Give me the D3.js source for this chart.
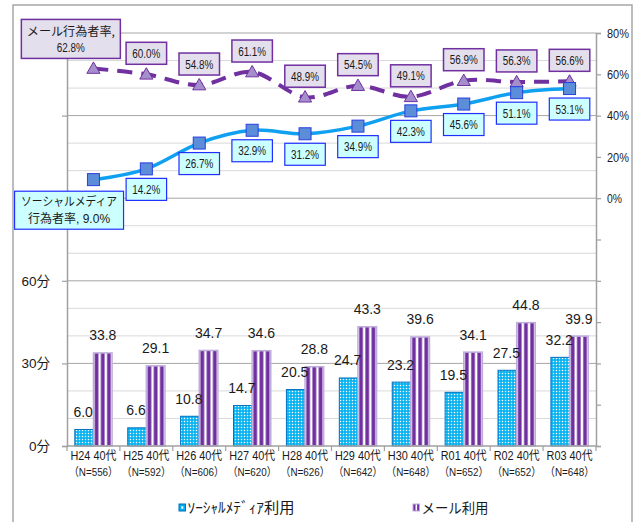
<!DOCTYPE html>
<html><head><meta charset="utf-8">
<script src="https://cdn.jsdelivr.net/npm/d3@7"></script>
<style>
html,body{margin:0;padding:0;background:#fff;}
svg{display:block;}
</style></head>
<body>
<svg id="chart" width="644" height="522"></svg>
<script>
// ---- data ----
const categories = ["H24","H25","H26","H27","H28","H29","H30","R01","R02","R03"];
const sampleN = [556,592,606,620,626,642,648,652,652,648];
const socialMinutes = [6.0,6.6,10.8,14.7,20.5,24.7,23.2,19.5,27.5,32.2];
const mailMinutes = [33.8,29.1,34.7,34.6,28.8,43.3,39.6,34.1,44.8,39.9];
const socialRate = [9.0,14.2,26.7,32.9,31.2,34.9,42.3,45.6,51.1,53.1];
const mailRate = [62.8,60.0,54.8,61.1,48.9,54.5,49.1,56.9,56.3,56.6];
const leftTickValues = [0,30,60,90,120,150];
const leftLabelValues = [0,30,60];
const rightTickValues = [-120,-100,-80,-60,-40,-20,0,20,40,60,80];
const rightLabelValues = [0,20,40,60,80];
const seriesNames = ["ｿｰｼｬﾙﾒﾃﾞｨｱ利用","メール利用"];
const socialRateName = ["ソーシャルメディア","行為者率"];
const mailRateName = "メール行為者率,";

// ---- layout ----
const L = 67, R = 596, T = 33, B = 446;
const NUM = "'Liberation Sans',Arial,'Noto Sans CJK JP',sans-serif";
const JP = "'Noto Sans CJK JP','Liberation Sans',sans-serif";

const svg = d3.select("#chart");

const x = d3.scaleBand().domain(categories).range([L, R]).paddingInner(0).paddingOuter(0);
const xi = d3.scaleBand().domain(["social","mail"]).range([0, x.bandwidth()]).paddingInner(0).paddingOuter(0.42);
const yL = d3.scaleLinear().domain([0,150]).range([B, T]);
const yR = d3.scaleLinear().domain([-120,80]).range([B, T]);

// patterns
const defs = svg.append("defs");
const pd = defs.append("pattern").attr("id","dots").attr("patternUnits","userSpaceOnUse")
  .attr("width",3).attr("height",3);
pd.append("rect").attr("width",3).attr("height",3).attr("fill","#00b0f0");
pd.append("rect").attr("x",0.8).attr("y",0.8).attr("width",1.4).attr("height",1.4).attr("fill","#ffffff");
const ps = defs.append("pattern").attr("id","stripes").attr("patternUnits","objectBoundingBox")
  .attr("patternContentUnits","objectBoundingBox").attr("width",1/3).attr("height",1);
ps.append("rect").attr("width",1/3).attr("height",1).attr("fill","#ffffff");
ps.append("rect").attr("x",0.065).attr("width",0.2).attr("height",1).attr("fill","#7030a0");

// outer frame
svg.append("rect").attr("x",13).attr("y",5).attr("width",619).attr("height",540)
  .attr("fill","none").attr("stroke","#a6a6a6").attr("stroke-width",1.5);

// gridlines (every 10 min on left scale)
const gridVals = d3.range(0,151,10);
svg.append("g").selectAll("line").data(gridVals.filter(v=>v>0)).join("line")
  .attr("x1",L).attr("x2",R)
  .attr("y1",d=>yL(d)).attr("y2",d=>yL(d))
  .attr("stroke",d=> d%30===0 ? "#a6a6a6" : "#d9d9d9")
  .attr("stroke-width",1);

// bars
const g = svg.append("g");
categories.forEach((c,i)=>{
  const x0 = x(c);
  g.append("rect").attr("x",x0+xi("social")).attr("width",xi.bandwidth())
    .attr("y",yL(socialMinutes[i])).attr("height",B-yL(socialMinutes[i]))
    .attr("fill","url(#dots)").attr("stroke","#0070c0").attr("stroke-width",1);
  g.append("rect").attr("x",x0+xi("mail")).attr("width",xi.bandwidth())
    .attr("y",yL(mailMinutes[i])).attr("height",B-yL(mailMinutes[i]))
    .attr("fill","url(#stripes)").attr("stroke","#bfaedb").attr("stroke-width",1.5);
  g.append("text").attr("x",x0+xi("social")+xi.bandwidth()/2-1).attr("y",yL(socialMinutes[i])-12.5)
    .attr("text-anchor","middle").attr("font-family",NUM).attr("font-size",14).attr("fill","#1a1a1a")
    .text(socialMinutes[i].toFixed(1));
  g.append("text").attr("x",x0+xi("mail")+xi.bandwidth()/2).attr("y",yL(mailMinutes[i])-12.5)
    .attr("text-anchor","middle").attr("font-family",NUM).attr("font-size",14).attr("fill","#1a1a1a")
    .text(mailMinutes[i].toFixed(1));
});

// axes
const axL = svg.append("g").attr("transform",`translate(${L},0)`)
  .call(d3.axisLeft(yL).tickValues(leftTickValues).tickSize(5).tickFormat(""));
const axR = svg.append("g").attr("transform",`translate(${R},0)`)
  .call(d3.axisRight(yR).tickValues(rightTickValues).tickSize(5).tickFormat(""));
const axB = svg.append("g").attr("transform",`translate(0,${B})`)
  .call(d3.axisBottom(x).tickSize(0).tickFormat(""));
[axL,axR,axB].forEach(a=>{
  a.select(".domain").attr("stroke","#a0a0a0").attr("stroke-width",1.5);
  a.selectAll(".tick line").attr("stroke","#a0a0a0").attr("stroke-width",1.2);
});
axB.select(".domain").attr("d",`M${L},0H${R}`);
// category boundary ticks
svg.append("g").selectAll("line").data(categories).join("line")
  .attr("x1",d=>x(d)+x.bandwidth()).attr("x2",d=>x(d)+x.bandwidth())
  .attr("y1",B).attr("y2",B+5).attr("stroke","#a0a0a0").attr("stroke-width",1.2);
svg.append("line").attr("x1",L).attr("x2",L).attr("y1",B).attr("y2",B+5).attr("stroke","#a0a0a0").attr("stroke-width",1.2);

// axis labels
svg.append("g").selectAll("text").data(leftLabelValues).join("text")
  .attr("x",50).attr("y",d=>yL(d)).attr("dy","0.36em").attr("text-anchor","end")
  .attr("font-family",NUM).attr("font-size",13.5).attr("fill","#1a1a1a").text(d=>d+"分");
svg.append("g").selectAll("text").data(rightLabelValues).join("text")
  .attr("x",607).attr("y",d=>yR(d)).attr("dy","0.36em").attr("text-anchor","start")
  .attr("font-family",NUM).attr("font-size",13.5).attr("fill","#1a1a1a")
  .attr("textLength",d=> d===0 ? 15 : 22).attr("lengthAdjust","spacingAndGlyphs")
  .text(d=>d+"%");

// category labels
const cl = svg.append("g").selectAll("g").data(categories).join("g");
cl.append("text").attr("x",d=>x(d)+x.bandwidth()/2).attr("y",459.5).attr("text-anchor","middle")
  .attr("font-family",NUM).attr("font-size",12.5).attr("fill","#1a1a1a")
  .attr("textLength",46).attr("lengthAdjust","spacingAndGlyphs")
  .text(d=>d+" 40代");
cl.append("text").attr("x",d=>x(d)+x.bandwidth()/2).attr("y",476).attr("text-anchor","middle")
  .attr("font-family",NUM).attr("font-size",11.5).attr("fill","#1a1a1a")
  .attr("textLength",49).attr("lengthAdjust","spacingAndGlyphs")
  .text((d,i)=>"（N="+sampleN[i]+"）");

// lines
const cx = c => x(c)+x.bandwidth()/2;
const socialPts = categories.map((c,i)=>[cx(c), yR(socialRate[i])]);
const mailPts = categories.map((c,i)=>[cx(c), yR(mailRate[i])]);
const line = d3.line().curve(d3.curveCardinal.tension(0));
svg.append("path").attr("d",line(mailPts)).attr("fill","none").attr("stroke","#7030a0")
  .attr("stroke-width",4).attr("stroke-dasharray","15,9");
svg.append("path").attr("d",line(socialPts)).attr("fill","none").attr("stroke","#10a0f0")
  .attr("stroke-width",3.5);
const tri = d3.symbol().type(d3.symbolTriangle).size(75);
svg.append("g").selectAll("path").data(mailPts).join("path")
  .attr("transform",d=>`translate(${d[0]},${d[1]+1})`).attr("d",tri)
  .attr("fill","#a48fcc").attr("stroke","#7030a0").attr("stroke-width",1);
svg.append("g").selectAll("rect").data(socialPts).join("rect")
  .attr("x",d=>d[0]-6).attr("y",d=>d[1]-6).attr("width",12).attr("height",12)
  .attr("fill","#5b8dd9").attr("stroke","#2a3fe0").attr("stroke-width",1);

// rate labels
function box(cxp, cyp, w, h, fill, stroke, sw){
  svg.append("rect").attr("x",cxp-w/2).attr("y",cyp-h/2).attr("width",w).attr("height",h)
    .attr("fill",fill).attr("stroke",stroke).attr("stroke-width",sw);
}
function label(cxp, y, txt, size, fam, tl){
  const t = svg.append("text").attr("x",cxp).attr("y",y).attr("text-anchor","middle")
    .attr("font-family",fam).attr("font-size",size).attr("fill","#1a1a1a").text(txt);
  if(tl) t.attr("textLength",tl).attr("lengthAdjust","spacingAndGlyphs");
  return t;
}
mailPts.forEach((p,i)=>{
  if(i===0){
    const bx = p[0]-22.6, by = p[1]-29.6;
    box(bx, by, 99, 39, "#e4dfec", "#7030a0", 1.5);
    label(bx, by-3, mailRateName, 12, JP, 88);
    label(bx, by+13, mailRate[i].toFixed(1)+"%", 12.5, NUM, 28);
  } else {
    const bx = p[0], by = p[1]-21;
    box(bx, by, 40.5, 22, "#e4dfec", "#7030a0", 1.5);
    label(bx, by+4.5, mailRate[i].toFixed(1)+"%", 12.5, NUM, 28);
  }
});
socialPts.forEach((p,i)=>{
  if(i===0){
    const bx = p[0]-24.4, by = p[1]+30.6;
    box(bx, by, 109, 38, "#ccffff", "#1f2fff", 1.2);
    label(bx, by-4, socialRateName[0], 12, JP, 96);
    const t = svg.append("text").attr("x",bx).attr("y",by+13).attr("text-anchor","middle")
      .attr("font-size",12).attr("fill","#1a1a1a");
    t.append("tspan").attr("font-family",JP).text(socialRateName[1]);
    t.append("tspan").attr("font-family",NUM).text(", "+socialRate[i].toFixed(1)+"%");
  } else {
    const bx = p[0], by = p[1]+20.5;
    box(bx, by, 40.5, 22, "#ccffff", "#1f2fff", 1.2);
    label(bx, by+4.5, socialRate[i].toFixed(1)+"%", 12.5, NUM, 28);
  }
});

// legend
const lg = svg.append("g");
lg.append("rect").attr("x",179).attr("y",504).attr("width",6.5).attr("height",7)
  .attr("fill","#00b0f0").attr("stroke","#0070c0").attr("stroke-width",1);
lg.append("rect").attr("x",181.3).attr("y",506.3).attr("width",2).attr("height",2.4).attr("fill","#fff");
lg.append("text").attr("x",187.5).attr("y",513).attr("font-family",JP).attr("font-size",14.5)
  .attr("fill","#1a1a1a").attr("textLength",107).attr("lengthAdjust","spacingAndGlyphs")
  .text(seriesNames[0]);
lg.append("rect").attr("x",413).attr("y",504).attr("width",6.5).attr("height",7)
  .attr("fill","#7030a0").attr("stroke","#bfaedb").attr("stroke-width",1);
lg.append("rect").attr("x",415.5).attr("y",504.5).attr("width",1.6).attr("height",6).attr("fill","#fff");
lg.append("text").attr("x",421.5).attr("y",513).attr("font-family",JP).attr("font-size",14)
  .attr("fill","#1a1a1a").attr("textLength",67).attr("lengthAdjust","spacingAndGlyphs")
  .text(seriesNames[1]);
</script>
</body></html>
